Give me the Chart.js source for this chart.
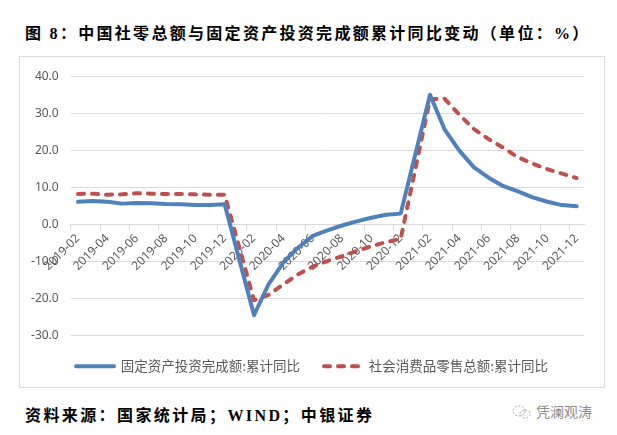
<!DOCTYPE html>
<html>
<head>
<meta charset="utf-8">
<script src="https://cdn.jsdelivr.net/npm/chart.js@4.4.1/dist/chart.umd.min.js"></script>
<style>
  html, body { margin: 0; padding: 0; background: #fff; }
  #page { position: relative; width: 617px; height: 435px; overflow: hidden; }
  .title, .source {
    position: absolute; left: 25px; white-space: nowrap;
    font-family: "Liberation Serif", "Noto Sans CJK SC", serif;
    font-weight: bold; font-size: 16px; color: #000;
  }
  .title { top: 20px; letter-spacing: 2.3px; }
  .source { top: 402px; letter-spacing: 2.4px; }
  #box {
    position: absolute; left: 19px; top: 56px; width: 586px; height: 332px;
    border: 1px solid #d9d9d9; box-sizing: border-box;
  }
  .mark {
    position: absolute; left: 512px; top: 401px; color: #8c8c8c;
    font-family: "Noto Sans CJK SC", sans-serif; font-size: 14px; white-space: nowrap;
  }
  .mark svg { vertical-align: -3px; margin-right: 4px; }
</style>
</head>
<body>
<div id="page">
  <div class="title">图 8：中国社零总额与固定资产投资完成额累计同比变动（单位：%）</div>
  <div id="box"><canvas id="chart"></canvas></div>
  <div class="source">资料来源：国家统计局；WIND；中银证券</div>
  <div class="mark"><svg width="20" height="16" viewBox="0 0 20 16"><ellipse cx="7" cy="7" rx="6" ry="5" fill="none" stroke="#aaa" stroke-dasharray="2 1.5"/><ellipse cx="13" cy="10" rx="5" ry="4" fill="none" stroke="#aaa" stroke-dasharray="2 1.5"/></svg>凭澜观涛</div>
</div>
<script>
// months, Jan is blank (Jan-Feb reported together)
const months = [
  '2019-02','2019-03','2019-04','2019-05','2019-06','2019-07','2019-08','2019-09','2019-10','2019-11','2019-12',
  '2020-01','2020-02','2020-03','2020-04','2020-05','2020-06','2020-07','2020-08','2020-09','2020-10','2020-11','2020-12',
  '2021-01','2021-02','2021-03','2021-04','2021-05','2021-06','2021-07','2021-08','2021-09','2021-10','2021-11','2021-12'
];

// 固定资产投资完成额:累计同比
const fixedInvest = [
  6.1, 6.3, 6.1, 5.6, 5.8, 5.7, 5.5, 5.4, 5.2, 5.2, 5.4,
  null, -24.5, -16.1, -10.3, -6.3, -3.1, -1.6, -0.3, 0.8, 1.8, 2.6, 2.9,
  null, 35.0, 25.6, 19.9, 15.4, 12.6, 10.3, 8.9, 7.3, 6.1, 5.2, 4.9
];

// 社会消费品零售总额:累计同比
const retailSales = [
  8.2, 8.3, 8.0, 8.1, 8.4, 8.3, 8.2, 8.2, 8.1, 8.0, 8.0,
  null, -20.5, -19.0, -16.2, -13.5, -11.4, -9.9, -8.6, -7.2, -5.9, -4.8, -3.9,
  null, 33.8, 33.9, 29.6, 25.7, 23.0, 20.7, 18.1, 16.4, 14.9, 13.7, 12.5
];

const seriesNames = ['固定资产投资完成额:累计同比', '社会消费品零售总额:累计同比'];
const yTicks = { min: -30, max: 40, step: 10 };

const gridGray = '#d9d9d9';
const tickGray = '#595959';

document.addEventListener('DOMContentLoaded', () => {
    const el = document.getElementById('chart');
    new Chart(el.getContext('2d'), {
        type: 'line',
        data: {
            labels: months,
            datasets: [{
                label: seriesNames[0],
                data: fixedInvest,
                borderColor: '#4F81BD',
                backgroundColor: '#4F81BD',
                borderWidth: 4,
                borderCapStyle: 'round',
                borderJoinStyle: 'round',
                pointRadius: 0,
                tension: 0,
                spanGaps: true,
            }, {
                label: seriesNames[1],
                data: retailSales,
                borderColor: '#C0504D',
                backgroundColor: '#C0504D',
                borderWidth: 4,
                borderDash: [6, 8],
                borderCapStyle: 'round',
                borderJoinStyle: 'round',
                pointRadius: 0,
                tension: 0,
                spanGaps: true,
            }]
        },
        options: {
            responsive: true,
            maintainAspectRatio: false,
            animation: false,
            layout: { padding: { top: 10, right: 0, bottom: 4, left: 0 } },
            plugins: {
                legend: {
                    position: 'bottom',
                    labels: {
                        boxWidth: 38,
                        boxHeight: 0,
                        padding: 24,
                        color: tickGray,
                        font: { family: '"Noto Sans CJK SC", sans-serif', size: 13.5 },
                    }
                },
                tooltip: { enabled: false }
            },
            scales: {
                x: {
                    position: { y: 0 },
                    offset: true,
                    border: { color: gridGray },
                    grid: {
                        offset: true,
                        drawOnChartArea: false,
                        tickLength: 5,
                        color: (ctx) => (ctx.index % 2 === 0 && ctx.index < months.length) ? gridGray : 'rgba(0,0,0,0)',
                    },
                    ticks: {
                        autoSkip: false,
                        maxRotation: 45,
                        minRotation: 45,
                        padding: 2,
                        color: tickGray,
                        font: { family: '"Noto Sans", sans-serif', size: 12 },
                        callback: function (v, i) { return i % 2 === 0 ? this.getLabelForValue(v) : ''; }
                    }
                },
                y: {
                    min: yTicks.min,
                    max: yTicks.max,
                    afterFit: (s) => { s.width = 50.7; },
                    border: { display: false },
                    grid: { color: gridGray, drawTicks: false },
                    ticks: {
                        stepSize: yTicks.step,
                        padding: 12,
                        color: tickGray,
                        font: { family: '"Noto Sans", sans-serif', size: 12 },
                        callback: (v) => v.toFixed(1)
                    }
                },
                // empty right-hand space so the legend stays centred in the frame
                spacer: {
                    position: 'right',
                    min: yTicks.min,
                    max: yTicks.max,
                    afterFit: (s) => { s.width = 20; },
                    border: { display: false },
                    grid: { display: false },
                    ticks: { display: false }
                }
            }
        }
    });
});
</script>
</body>
</html>
